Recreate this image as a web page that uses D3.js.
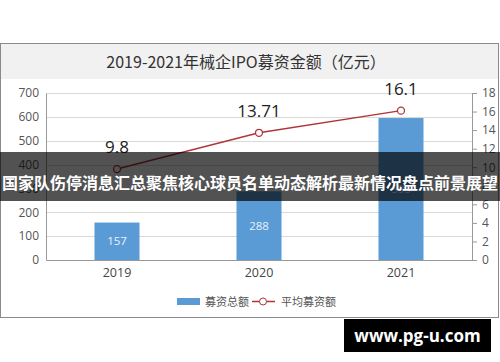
<!DOCTYPE html>
<html>
<head>
<meta charset="utf-8">
<script src="https://cdn.jsdelivr.net/npm/d3@7"></script>
<style>
  body { margin: 0; background: #fff; }
  svg { display: block; font-family: "Noto Sans CJK SC", "Open Sans", sans-serif; }
</style>
</head>
<body>
<svg id="chart" width="500" height="362"></svg>
<script>
// data
let years = ["2019", "2020", "2021"]
let totals = [157, 288, 595]        // 募资总额
let averages = [9.8, 13.71, 16.1]   // 平均募资额
let leftTicks = [0, 100, 200, 300, 400, 500, 600, 700]
let rightTicks = [0, 2, 4, 6, 8, 10, 12, 14, 16, 18]

let svg = d3.select("#chart")

// frame + title band
svg.append("rect").attr("x", 0.5).attr("y", 43.5).attr("width", 498).attr("height", 274)
  .attr("fill", "#fff").attr("stroke", "#8a8a8a")
svg.append("rect").attr("x", 1).attr("y", 44).attr("width", 497).attr("height", 35).attr("fill", "#f1f1f1")
svg.append("text").attr("x", 246).attr("y", 67.5).attr("text-anchor", "middle")
  .attr("font-size", 16).attr("fill", "#333")
  .text("2019-2021年械企IPO募资金额（亿元）")

let pLeft = 46, pRight = 472, pTop = 93, pBottom = 260
let barW = 45

let x = d3.scaleBand().domain(years).range([pLeft, pRight]).padding(0)
let xc = d => x(d) + x.bandwidth() / 2
let y = d3.scaleLinear().domain([0, 700]).range([pBottom, pTop])
let y2 = d3.scaleLinear().domain([0, 18]).range([pBottom, pTop])

// grid
svg.append("g").selectAll("line").data(leftTicks.slice(1)).enter().append("line")
  .attr("x1", pLeft).attr("x2", pRight)
  .attr("y1", d => Math.round(y(d)) + 0.5).attr("y2", d => Math.round(y(d)) + 0.5)
  .attr("stroke", "#d9d9d9")

// left axis
let gl = svg.append("g").attr("transform", `translate(${pLeft},0)`)
  .call(d3.axisLeft(y).tickValues(leftTicks).tickSize(0).tickPadding(7))
gl.select(".domain").attr("stroke", "#999")
gl.selectAll("text").attr("font-size", 12).attr("fill", "#555").attr("font-family", "Open Sans, sans-serif")

// right axis
let gr = svg.append("g").attr("transform", `translate(${pRight},0)`)
  .call(d3.axisRight(y2).tickValues(rightTicks).tickSize(5).tickPadding(5))
gr.select(".domain").attr("stroke", "#999")
gr.selectAll("line").attr("stroke", "#999")
gr.selectAll("text").attr("font-size", 12).attr("fill", "#555").attr("font-family", "Open Sans, sans-serif")

// bottom axis
let gb = svg.append("g").attr("transform", `translate(0,${pBottom})`)
  .call(d3.axisBottom(x).tickSize(0).tickPadding(8))
gb.select(".domain").attr("stroke", "#999")
gb.selectAll("text").attr("font-size", 12.5).attr("fill", "#444").attr("font-family", "Open Sans, sans-serif")

// bars
svg.append("g").selectAll("rect").data(totals).enter().append("rect")
  .attr("x", (d, i) => xc(years[i]) - barW / 2)
  .attr("width", barW)
  .attr("y", d => y(d))
  .attr("height", d => pBottom - y(d))
  .attr("fill", "#5b9bd5")

svg.append("g").selectAll("text").data(totals).enter().append("text")
  .attr("x", (d, i) => xc(years[i]))
  .attr("y", d => (y(d) + pBottom) / 2 + 4)
  .attr("text-anchor", "middle").attr("font-size", 11.5).attr("fill", "#e8f1fa")
  .attr("font-family", "Open Sans, sans-serif")
  .text(d => d)

// line
let line = d3.line().x((d, i) => xc(years[i])).y(d => y2(d))
svg.append("path").datum(averages).attr("d", line)
  .attr("fill", "none").attr("stroke", "#b0353a").attr("stroke-width", 1.5)
svg.append("g").selectAll("circle").data(averages).enter().append("circle")
  .attr("cx", (d, i) => xc(years[i])).attr("cy", d => y2(d)).attr("r", 3.5)
  .attr("fill", "#fff").attr("stroke", "#b0353a").attr("stroke-width", 1.3)
svg.append("g").selectAll("text").data(averages).enter().append("text")
  .attr("x", (d, i) => xc(years[i])).attr("y", d => y2(d) - 16)
  .attr("text-anchor", "middle").attr("font-size", 17).attr("fill", "#222")
  .attr("font-family", "Open Sans, sans-serif")
  .text(d => d)

// legend
let lg = svg.append("g").attr("transform", "translate(0,301)")
lg.append("rect").attr("x", 177).attr("y", -3).attr("width", 23).attr("height", 7).attr("fill", "#5b9bd5")
lg.append("text").attr("x", 205).attr("y", 4.5).attr("font-size", 11).attr("fill", "#555").text("募资总额")
lg.append("line").attr("x1", 252).attr("x2", 275).attr("y1", 0.5).attr("y2", 0.5).attr("stroke", "#b0353a").attr("stroke-width", 1.5)
lg.append("circle").attr("cx", 263).attr("cy", 0.5).attr("r", 3.5).attr("fill", "#fff").attr("stroke", "#b0353a")
lg.append("text").attr("x", 281).attr("y", 4.5).attr("font-size", 11).attr("fill", "#555").text("平均募资额")

// banner overlay
svg.append("rect").attr("x", 0).attr("y", 152).attr("width", 500).attr("height", 49)
  .attr("fill", "rgba(0,0,0,0.68)")
svg.append("text").attr("x", 250).attr("y", 189).attr("text-anchor", "middle")
  .attr("font-size", 16).attr("font-weight", "bold").attr("fill", "#fff")
  .text("国家队伤停消息汇总聚焦核心球员名单动态解析最新情况盘点前景展望")

// site tag
svg.append("rect").attr("x", 344).attr("y", 319).attr("width", 147).attr("height", 33).attr("fill", "#000")
svg.append("text").attr("x", 417.5).attr("y", 341.5).attr("text-anchor", "middle")
  .attr("font-size", 17).attr("font-weight", "bold").attr("fill", "#fff")
  .attr("font-family", "Open Sans, sans-serif")
  .text("www.pg-u.com")
</script>
</body>
</html>
